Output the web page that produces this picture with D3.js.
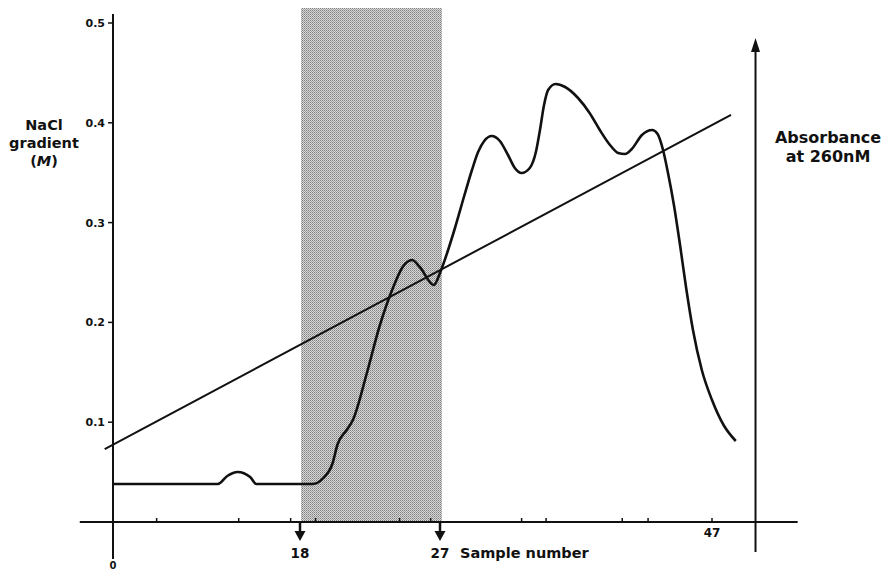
<!DOCTYPE html>
<html>
<head>
<meta charset="utf-8">
<title>NaCl gradient elution</title>
<script src="https://d3js.org/d3.v7.min.js"></script>
<style>
  body { margin: 0; background: #fff; }
  svg { display: block; font-family: "DejaVu Sans", sans-serif; font-weight: bold; }
  .lbl { fill: #111; }
</style>
</head>
<body>
<div id="chart"></div>
<script>
// ---- data ----
// NaCl gradient ticks (M)
var naclTicks = [0.1, 0.2, 0.3, 0.4, 0.5];
// small tick marks along the sample axis
var sampleTicks = [4.2, 12.1, 17.1, 19.0, 24.4, 26.4, 33.0, 34.8, 40.4, 42.3, 47];
// fractions pooled (arrows + shaded band)
var pooled = [18, 27];
var endSample = 47;
// linear NaCl gradient: [sample, M]
var gradient = [[-0.8, 0.073], [48.4, 0.408]];
// absorbance at 260 nm, arbitrary units: [sample, A]
var absorbanceTrace = [
  [0, 0.076], [10.1, 0.076], [11.0, 0.092], [12.0, 0.100], [13.2, 0.090], [13.8, 0.076],
  [18.8, 0.076], [19.5, 0.088], [20.1, 0.118], [20.4, 0.154], [21.0, 0.184], [21.4, 0.204],
  [22.3, 0.298], [23.1, 0.390], [24.0, 0.470], [24.6, 0.510], [25.2, 0.524], [25.7, 0.510],
  [26.6, 0.474], [27.0, 0.498], [27.4, 0.528], [28.1, 0.588], [28.8, 0.654], [29.35, 0.704],
  [29.8, 0.740], [30.25, 0.762], [30.8, 0.772], [31.4, 0.762], [32.0, 0.734], [32.5, 0.708],
  [33.0, 0.698], [33.6, 0.708], [34.05, 0.740], [34.35, 0.784], [34.65, 0.834], [34.95, 0.864],
  [35.5, 0.876], [36.2, 0.870], [37.15, 0.848], [38.0, 0.818], [38.75, 0.784], [39.5, 0.754],
  [40.1, 0.738], [40.6, 0.736], [41.1, 0.746], [41.85, 0.774], [42.6, 0.784], [43.0, 0.776],
  [43.4, 0.744], [43.75, 0.700], [44.2, 0.634], [44.65, 0.554], [45.1, 0.468], [45.6, 0.384],
  [46.25, 0.304], [47.0, 0.244], [47.85, 0.194], [48.75, 0.162]
];

var width = 883, height = 572;

var svg = d3.select("#chart").append("svg")
  .attr("width", width)
  .attr("height", height);

// sample axis is drawn unevenly in the original, so piecewise
var x = d3.scaleLinear().domain([0, 18, 27, 47]).range([113, 300, 440, 712]);
var y = d3.scaleLinear().domain([0, 0.5]).range([522, 23]);
var yA = d3.scaleLinear().domain([0, 1]).range([522, 22]);

// halftone-ish fill for the shaded band
var defs = svg.append("defs");
var pat = defs.append("pattern")
  .attr("id", "dots")
  .attr("width", 2).attr("height", 2)
  .attr("patternUnits", "userSpaceOnUse");
pat.append("rect").attr("width", 2).attr("height", 2).attr("fill", "#d8d8d8");
pat.append("rect").attr("width", 1).attr("height", 1).attr("fill", "#7e7e7e");
pat.append("rect").attr("x", 1).attr("y", 1).attr("width", 1).attr("height", 1).attr("fill", "#a0a0a0");

svg.append("rect")
  .attr("x", x(pooled[0]) + 1)
  .attr("y", y(0.515))
  .attr("width", x(pooled[1]) - x(pooled[0]) + 1)
  .attr("height", y(0) - y(0.515))
  .attr("fill", "url(#dots)");

// bottom axis line + small ticks
svg.append("line")
  .attr("x1", x(-3.2)).attr("x2", x(53.3))
  .attr("y1", y(0)).attr("y2", y(0))
  .attr("stroke", "#111").attr("stroke-width", 1.8);

svg.selectAll(".stick")
  .data(sampleTicks)
  .enter().append("line")
  .attr("x1", function(d) { return x(d); })
  .attr("x2", function(d) { return x(d); })
  .attr("y1", y(0)).attr("y2", y(0) - 4)
  .attr("stroke", "#111").attr("stroke-width", 1.5);

// left axis
svg.append("line")
  .attr("x1", x(0)).attr("x2", x(0))
  .attr("y1", y(0.509)).attr("y2", y(-0.037))
  .attr("stroke", "#111").attr("stroke-width", 2);

svg.selectAll(".ytick")
  .data(naclTicks)
  .enter().append("line")
  .attr("x1", x(0) - 5).attr("x2", x(0))
  .attr("y1", function(d) { return y(d); })
  .attr("y2", function(d) { return y(d); })
  .attr("stroke", "#111").attr("stroke-width", 1.5);

svg.selectAll(".ylabel")
  .data(naclTicks)
  .enter().append("text")
  .attr("class", "lbl")
  .attr("x", x(0) - 8)
  .attr("y", function(d) { return y(d); })
  .attr("dy", "0.36em")
  .attr("text-anchor", "end")
  .style("font-size", "11px")
  .text(function(d) { return d3.format(".1f")(d); });

svg.append("text")
  .attr("class", "lbl")
  .attr("x", x(0)).attr("y", 569)
  .attr("text-anchor", "middle")
  .style("font-size", "10px")
  .text("0");

var ytitle = svg.append("text")
  .attr("class", "lbl")
  .attr("text-anchor", "middle")
  .style("font-size", "14.5px");
ytitle.append("tspan").attr("x", 44).attr("y", 130).text("NaCl");
ytitle.append("tspan").attr("x", 44).attr("y", 148).text("gradient");
var m = ytitle.append("tspan").attr("x", 44).attr("y", 166);
m.append("tspan").text("(");
m.append("tspan").style("font-style", "italic").text("M");
m.append("tspan").text(")");

// pooled fraction arrows
pooled.forEach(function(s) {
  var cx = x(s), top = y(0);
  svg.append("line")
    .attr("x1", cx).attr("x2", cx)
    .attr("y1", top).attr("y2", top + 10)
    .attr("stroke", "#111").attr("stroke-width", 2.5);
  svg.append("path")
    .attr("d", "M" + (cx - 5.5) + "," + (top + 9) + "L" + (cx + 5.5) + "," + (top + 9) + "L" + cx + "," + (top + 19) + "Z")
    .attr("fill", "#111");
  svg.append("text")
    .attr("class", "lbl")
    .attr("x", cx).attr("y", 558)
    .attr("text-anchor", "middle")
    .style("font-size", "13.5px")
    .text(s);
});

svg.append("text")
  .attr("class", "lbl")
  .attr("x", x(endSample)).attr("y", 537)
  .attr("text-anchor", "middle")
  .style("font-size", "12px")
  .text(endSample);

svg.append("text")
  .attr("class", "lbl")
  .attr("x", 460).attr("y", 558)
  .style("font-size", "14.5px")
  .text("Sample number");

// absorbance axis (arrow)
var ax = x(50.2);
svg.append("line")
  .attr("x1", ax).attr("x2", ax)
  .attr("y1", y(-0.03)).attr("y2", yA(0.94))
  .attr("stroke", "#111").attr("stroke-width", 2);
svg.append("path")
  .attr("d", "M" + (ax - 4.5) + "," + yA(0.94) + "L" + (ax + 4.5) + "," + yA(0.94) + "L" + ax + "," + yA(0.968) + "Z")
  .attr("fill", "#111");

var rtitle = svg.append("text")
  .attr("class", "lbl")
  .attr("text-anchor", "middle")
  .style("font-size", "16px");
rtitle.append("tspan").attr("x", 828).attr("y", 143).text("Absorbance");
rtitle.append("tspan").attr("x", 828).attr("y", 162).text("at 260nM");

// gradient line
svg.append("path")
  .datum(gradient)
  .attr("d", d3.line()
    .x(function(d) { return x(d[0]); })
    .y(function(d) { return y(d[1]); }))
  .attr("fill", "none")
  .attr("stroke", "#111")
  .attr("stroke-width", 2);

// absorbance trace
svg.append("path")
  .datum(absorbanceTrace)
  .attr("d", d3.line()
    .curve(d3.curveMonotoneX)
    .x(function(d) { return x(d[0]); })
    .y(function(d) { return yA(d[1]); }))
  .attr("fill", "none")
  .attr("stroke", "#111")
  .attr("stroke-width", 2.6)
  .attr("stroke-linejoin", "round");
</script>
</body>
</html>
